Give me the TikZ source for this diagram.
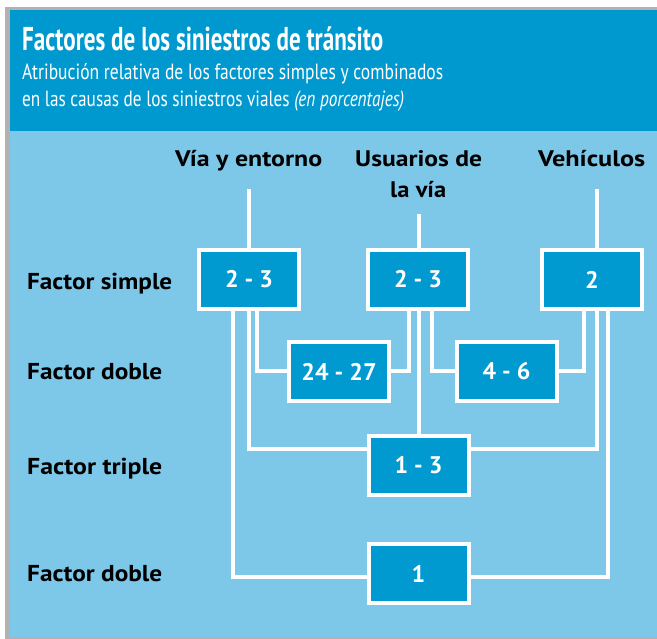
\documentclass[tikz,border=0pt]{standalone}
\usepackage{fontspec}
\setmainfont{PT Sans}
\usepackage{graphicx}
\usetikzlibrary{calc}
\definecolor{hdrblue}{RGB}{0,153,207}
\definecolor{bgblue}{RGB}{125,199,232}
\definecolor{boxblue}{RGB}{0,153,208}
\definecolor{edgegray}{RGB}{178,178,178}
\newcommand{\fitw}[2]{\resizebox{#1}{\height}{#2}}
\tikzset{
  lbl/.style={inner sep=0pt, anchor=base west, text=black, font=\bfseries\fontsize{22.5}{26}\selectfont},
  rowlbl/.style={lbl, font=\bfseries\fontsize{23}{27}\selectfont},
  hdr/.style={inner sep=0pt, anchor=base west, text=white},
  numbox/.style={draw=white, line width=4pt, fill=boxblue, minimum width=100pt, minimum height=59pt, inner sep=0pt, text=white, font=\bfseries\fontsize{24}{28}\selectfont},
  wire/.style={draw=white, line width=4pt},
}
\begin{document}
\begin{tikzpicture}[x=1pt,y=-1pt]
\useasboundingbox (0,0) rectangle (657,639);
\fill[white] (0,0) rectangle (657,639);
\fill[edgegray] (5,7) rectangle (657,639);
\fill[hdrblue] (10,10) rectangle (657,131);
\fill[bgblue] (10,131) rectangle (657,637);

% header
\node[hdr, font=\bfseries\fontsize{33}{36}\selectfont] (title) at (22,51) {\fitw{361pt}{Factores de los siniestros de tránsito}};
\node[hdr, font=\fontsize{22}{26}\selectfont] (sub1) at (22,80) {\fitw{421pt}{Atribución relativa de los factores simples y combinados}};
\node[hdr, font=\fontsize{22}{26}\selectfont] (sub2) at (22,107) {\fitw{382pt}{en las causas de los siniestros viales \textit{(en porcentajes)}}};

% column labels
\node[lbl] (cvia) at (175,167) {\fitw{147pt}{Vía y entorno}};
\node[lbl] (cusu) at (355,167) {\fitw{127pt}{Usuarios de}};
\node[lbl] (cusu2) at (390,198) {\fitw{56pt}{la vía}};
\node[lbl] (cveh) at (538,167) {\fitw{107pt}{Vehículos}};

% row labels
\node[rowlbl] (rsimple) at (27,290) {\fitw{145pt}{Factor simple}};
\node[rowlbl] (rdoble) at (27,380) {\fitw{135pt}{Factor doble}};
\node[rowlbl] (rtriple) at (27,475) {\fitw{135pt}{Factor triple}};
\node[rowlbl] (rdoble2) at (27,582) {\fitw{135pt}{Factor doble}};

% free ends of the top lines
\coordinate (tvia) at (249,189);
\coordinate (tusu) at (419,214);
\coordinate (tveh) at (597,189);

% boxes
\node[numbox] (s1) at (249,279.5) {2 - 3};
\node[numbox] (s2) at (418,279.5) {2 - 3};
\node[numbox] (s3) at (592,279.5) {2};
\node[numbox] (d1) at (339,371.5) {24 - 27};
\node[numbox] (d2) at (506.5,371.5) {4 - 6};
\node[numbox] (t) at (418.5,465.5) {1 - 3};
\node[numbox] (q) at (418.5,573.5) {1};

% connectors
\draw[wire] (tvia) -- (s1.north);
\draw[wire] (tusu) -- (tusu |- s2.north);
\draw[wire] (tveh) -- (tveh |- s3.north);

\draw[wire] ($(s1.south)+(-16,0)$) |- ($(q.west)+(0,3.5)$);
\draw[wire] (s1.south) |- ($(t.west)+(0,-16.5)$);
\draw[wire] ($(s1.south)+(8,0)$) |- (d1.west);

\draw[wire] ($(s2.south)+(-9,0)$) |- (d1.east);
\draw[wire] ($(s2.south)+(0.5,0)$) -- (t.north);
\draw[wire] ($(s2.south)+(14,0)$) |- (d2.west);

\draw[wire] ($(s3.south)+(-8,0)$) |- (d2.east);
\draw[wire] ($(s3.south)+(5,0)$) |- ($(t.east)+(0,-16.5)$);
\draw[wire] ($(s3.south)+(16,0)$) |- ($(q.east)+(0,3.5)$);
\end{tikzpicture}
\end{document}
